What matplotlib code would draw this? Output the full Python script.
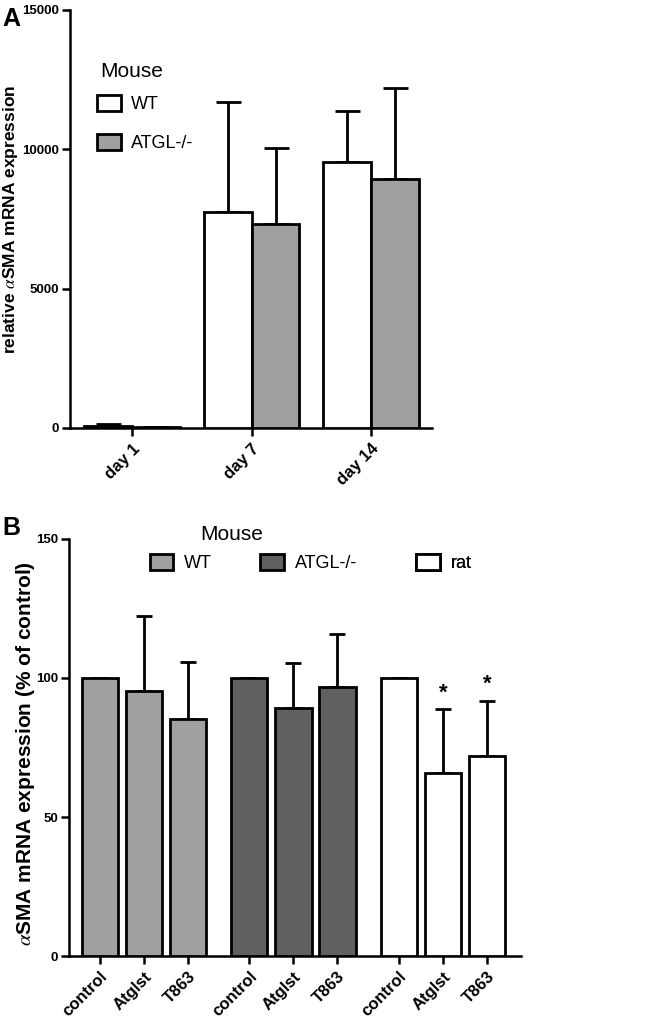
import matplotlib
matplotlib.use("Agg")
import matplotlib.pyplot as plt
import matplotlib.patches as mpatches
import numpy as np

plt.rcParams['font.family'] = ['Liberation Sans', 'DejaVu Sans']
plt.rcParams['mathtext.fontset'] = 'stix'

# ---- Panel A data ----
days = ["day 1", "day 7", "day 14"]
wt_a = [80, 7745, 9560]
wt_a_err = [60, 3970, 1830]
atgl_a = [30, 7310, 8940]
atgl_a_err = [10, 2750, 3275]

# ---- Panel B data ----
treatments = ["control", "Atglst", "T863"]
groups = ["WT", "ATGL-/-", "rat"]
wt_b = [100, 95.4, 85.2]
wt_b_err = [0, 27.0, 20.6]
atgl_b = [100, 89.3, 96.6]
atgl_b_err = [0, 16.2, 19.4]
rat_b = [100, 65.9, 72.0]
rat_b_err = [0, 22.9, 19.9]
rat_sig = ["", "*", "*"]

fig = plt.figure(figsize=(6.7, 10.27), dpi=100)

EDGE_LW = 2.0
bold = dict(fontweight='bold')

def style_axes(ax):
    for s in ['top', 'right']:
        ax.spines[s].set_visible(False)
    for s in ['left', 'bottom']:
        ax.spines[s].set_linewidth(1.8)
    ax.tick_params(axis='both', width=1.8, length=6, direction='out')
    ax.tick_params(axis='y', pad=2)

def legend_patch(color, label):
    return mpatches.Patch(facecolor=color, edgecolor='black', linewidth=2, label=label)

# ---------------- Panel A ----------------
axA = fig.add_axes([0.1045, 0.5833, 0.5405, 0.407])
xa = np.arange(len(days))
bw = 0.40
axA.bar(xa - bw/2, wt_a, bw, color='white', edgecolor='black', linewidth=EDGE_LW, zorder=3)
axA.bar(xa + bw/2, atgl_a, bw, color='#a0a0a0', edgecolor='black', linewidth=EDGE_LW, zorder=3)
axA.errorbar(xa - bw/2, wt_a, yerr=[np.zeros(3), wt_a_err], fmt='none', ecolor='black',
             elinewidth=2, capsize=9, capthick=2, zorder=2)
axA.errorbar(xa + bw/2, atgl_a, yerr=[np.zeros(3), atgl_a_err], fmt='none', ecolor='black',
             elinewidth=2, capsize=9, capthick=2, zorder=2)
axA.set_xlim(-0.52, 2.51)
axA.set_ylim(0, 15000)
axA.set_yticks([0, 5000, 10000, 15000])
axA.set_yticklabels(['0', '5000', '10000', '15000'], fontsize=9.5, **bold)
axA.set_xticks(xa)
axA.set_xticklabels(days, rotation=45, ha='right', rotation_mode='anchor', fontsize=12, **bold)
style_axes(axA)
axA.set_ylabel(r'relative $\alpha$SMA mRNA expression', fontsize=12.5, **bold)
axA.yaxis.set_label_coords(-0.138, 0.5)
hA = [legend_patch('white', 'WT'), legend_patch('#a0a0a0', 'ATGL-/-')]
axA.legend(handles=hA, frameon=False, fontsize=13, loc='center left',
           bbox_to_anchor=(0.0746, 0.728), borderpad=0, borderaxespad=0, labelspacing=1.15,
           handlelength=1.3, handleheight=0.95, handletextpad=0.6)
axA.text(0.083, 0.852, 'Mouse', transform=axA.transAxes, fontsize=15, ha='left', va='center')
fig.text(0.004, 0.993, 'A', fontsize=18, fontweight='bold', va='top', ha='left')

# ---------------- Panel B ----------------
axB = fig.add_axes([0.103, 0.0691, 0.6746, 0.4061])
gstep = 3.4
colors = ['#a0a0a0', '#606060', 'white']
vals = [wt_b, atgl_b, rat_b]
errs = [wt_b_err, atgl_b_err, rat_b_err]
bwb = 0.82
xpos_all = []
for g in range(3):
    xg = g * gstep + np.arange(3)
    xpos_all.extend(xg)
    axB.bar(xg, vals[g], bwb, color=colors[g], edgecolor='black', linewidth=EDGE_LW, zorder=3)
    axB.errorbar(xg, vals[g], yerr=[np.zeros(3), errs[g]], fmt='none', ecolor='black',
                 elinewidth=2, capsize=5.5, capthick=2, zorder=2)
xr = 2 * gstep + np.arange(3)
for x, v, e, s in zip(xr, rat_b, rat_b_err, rat_sig):
    if s:
        axB.text(x, v + e + 2, s, ha='center', va='bottom', fontsize=16, **bold)
axB.set_xlim(-0.70, 9.57)
axB.set_ylim(0, 150)
axB.set_yticks([0, 50, 100, 150])
axB.set_yticklabels(['0', '50', '100', '150'], fontsize=9.5, **bold)
axB.set_xticks(xpos_all)
axB.set_xticklabels(treatments * 3, rotation=45, ha='right', rotation_mode='anchor', fontsize=12, **bold)
style_axes(axB)
axB.set_ylabel(r'$\alpha$SMA mRNA expression (% of control)', fontsize=15, **bold)
axB.yaxis.set_label_coords(-0.0708, 0.485)
legB_x = [0.179, 0.423, 0.768]
for c, l, lx in zip(colors, groups, legB_x):
    lg = axB.legend(handles=[legend_patch(c, l)], frameon=False, fontsize=13, loc='center left',
                    bbox_to_anchor=(lx, 0.942), borderpad=0, borderaxespad=0,
                    handlelength=1.3, handleheight=0.95, handletextpad=0.6)
    axB.add_artist(lg)
axB.text(0.361, 1.01, 'Mouse', transform=axB.transAxes, fontsize=15, ha='center', va='center')
fig.text(0.004, 0.4975, 'B', fontsize=18, fontweight='bold', va='top', ha='left')

fig.savefig('out.png', dpi=100)
